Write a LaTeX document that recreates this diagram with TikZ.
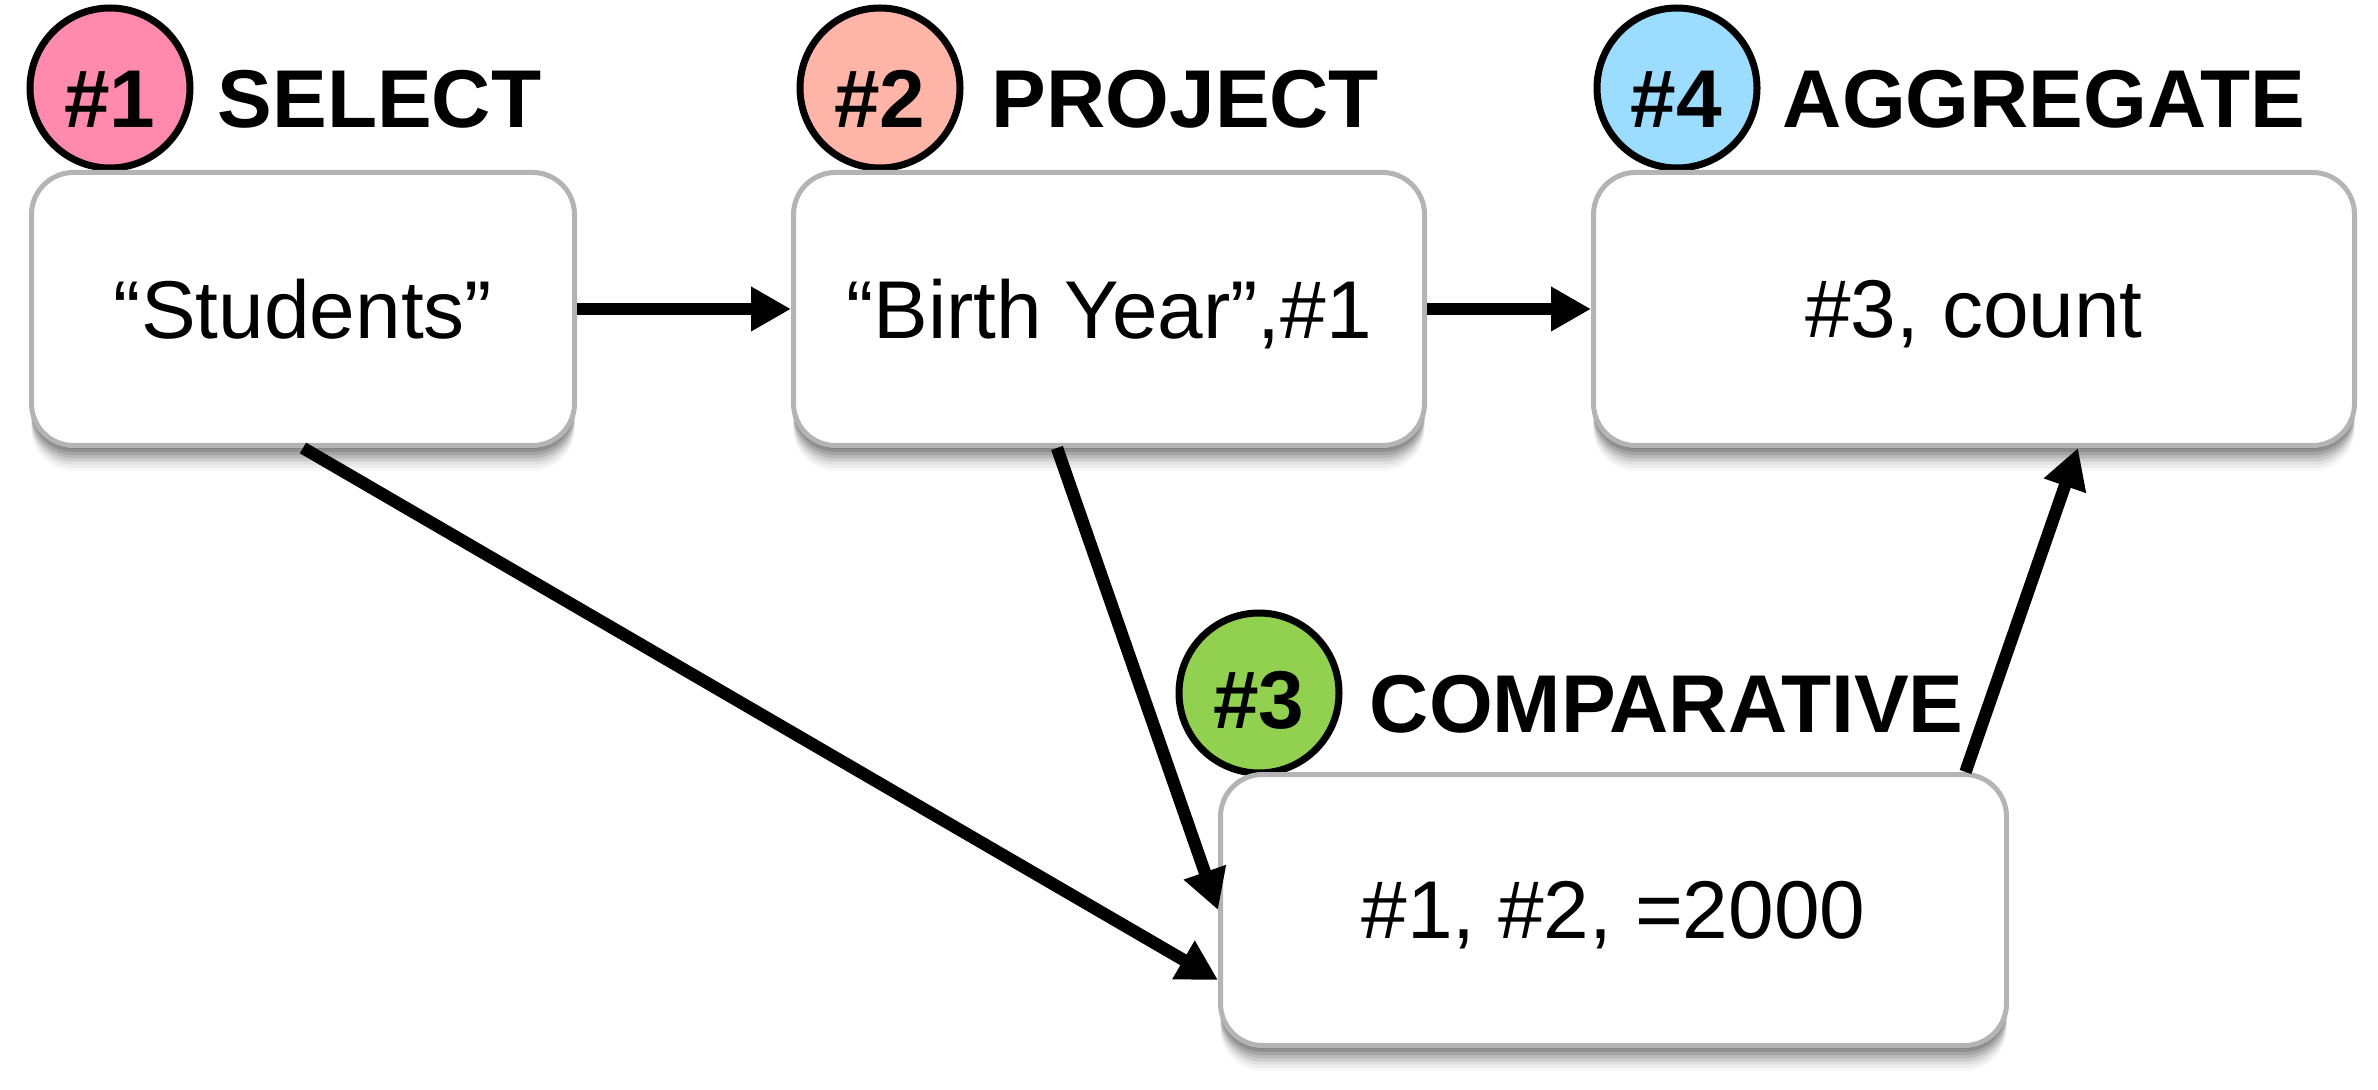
\documentclass[tikz,border=0pt]{standalone}
\usepackage{fontspec}
\setmainfont{Liberation Sans}
\usetikzlibrary{arrows.meta,shadows,calc}
\definecolor{cone}{HTML}{FF8AAE}
\definecolor{ctwo}{HTML}{FFB4A8}
\definecolor{cthree}{HTML}{92D050}
\definecolor{cfour}{HTML}{9CDCFF}
\definecolor{boxgray}{HTML}{B4B4B4}
\begin{document}
\begin{tikzpicture}[x=0.25pt,y=-0.25pt,
  softshadow/.style={
    drop shadow={shadow xshift=0pt, shadow yshift=-0.8pt, fill=black, opacity=0.13},
    drop shadow={shadow xshift=0pt, shadow yshift=-1.6pt, fill=black, opacity=0.12},
    drop shadow={shadow xshift=0pt, shadow yshift=-2.4pt, fill=black, opacity=0.11},
    drop shadow={shadow xshift=0pt, shadow yshift=-3.2pt, fill=black, opacity=0.10},
    drop shadow={shadow xshift=0pt, shadow yshift=-4.0pt, fill=black, opacity=0.08},
    drop shadow={shadow xshift=0pt, shadow yshift=-4.8pt, fill=black, opacity=0.06},
    drop shadow={shadow xshift=0pt, shadow yshift=-5.6pt, fill=black, opacity=0.04},
    drop shadow={shadow xshift=0pt, shadow yshift=-6.4pt, fill=black, opacity=0.03}},
  stepbox/.style={draw=boxgray, line width=1.25pt, fill=white, rounded corners=10.5pt,
    inner sep=0pt, text depth=0pt, font=\fontsize{20.5pt}{24pt}\selectfont, softshadow},
  badge/.style={circle, draw=black, line width=1.75pt, minimum size=40pt, inner sep=0pt},
  badgetxt/.style={anchor=base, inner sep=0pt, font=\bfseries\fontsize{20.5pt}{24pt}\selectfont},
  steptitle/.style={anchor=base west, inner sep=0pt, font=\bfseries\fontsize{20.5pt}{24pt}\selectfont},
  arr/.style={line width=3.1pt, -{Triangle[length=10pt,width=10.5pt]}}]

\useasboundingbox (0,0) rectangle (2378,1090);

% badges (drawn first, boxes overlap them)
\node[badge, fill=cone]   (c1) at (110,88) {};
\node[badge, fill=ctwo]   (c2) at (880,88) {};
\node[badge, fill=cfour]  (c4) at (1677,88) {};
\node[badge, fill=cthree] (c3) at (1259,693) {};
\node[badgetxt] (l1) at (110,128) {\#1};
\node[badgetxt] (l2) at (880,128) {\#2};
\node[badgetxt] (l4) at (1676,128) {\#4};
\node[badgetxt] (l3) at (1259,729) {\#3};

% titles
\node[steptitle] (t1) at (217,128) {SELECT};
\node[steptitle] (t2) at (991,128) {PROJECT};
\node[steptitle] (t4) at (1782,128) {AGGREGATE};
\node[steptitle] (t3) at (1369,732) {COMPARATIVE};

% boxes
\node[stepbox, minimum width=135.75pt, minimum height=68.25pt] (b1) at (303,309) {“Students”};
\node[stepbox, minimum width=157.75pt, minimum height=68.25pt] (b2) at (1109,309) {“Birth Year”,\#1};
\node[stepbox, minimum width=190.25pt, minimum height=68.25pt] (b4) at (1974,309) {\#3, count};
\node[stepbox, minimum width=196.5pt, minimum height=67.75pt] (b3) at (1613.5,910) {\#1, \#2, =2000};

% connector end points
\coordinate (s13) at (b1.south);
\coordinate (e13) at ($(b3.west)+(0,70)$);
\coordinate (s23) at ($(b2.south)+(-52,0)$);
\coordinate (s34) at ($(b3.north)+(352,0)$);
\coordinate (e34) at ($(b4.south)+(104,0)$);

% connectors
\draw[arr] (b1.east) -- (b2.west);
\draw[arr] (b2.east) -- (b4.west);
\draw[arr] (s13) -- (e13);
\draw[arr] (s23) -- (b3.west);
\draw[arr] (s34) -- (e34);
\end{tikzpicture}
\end{document}
